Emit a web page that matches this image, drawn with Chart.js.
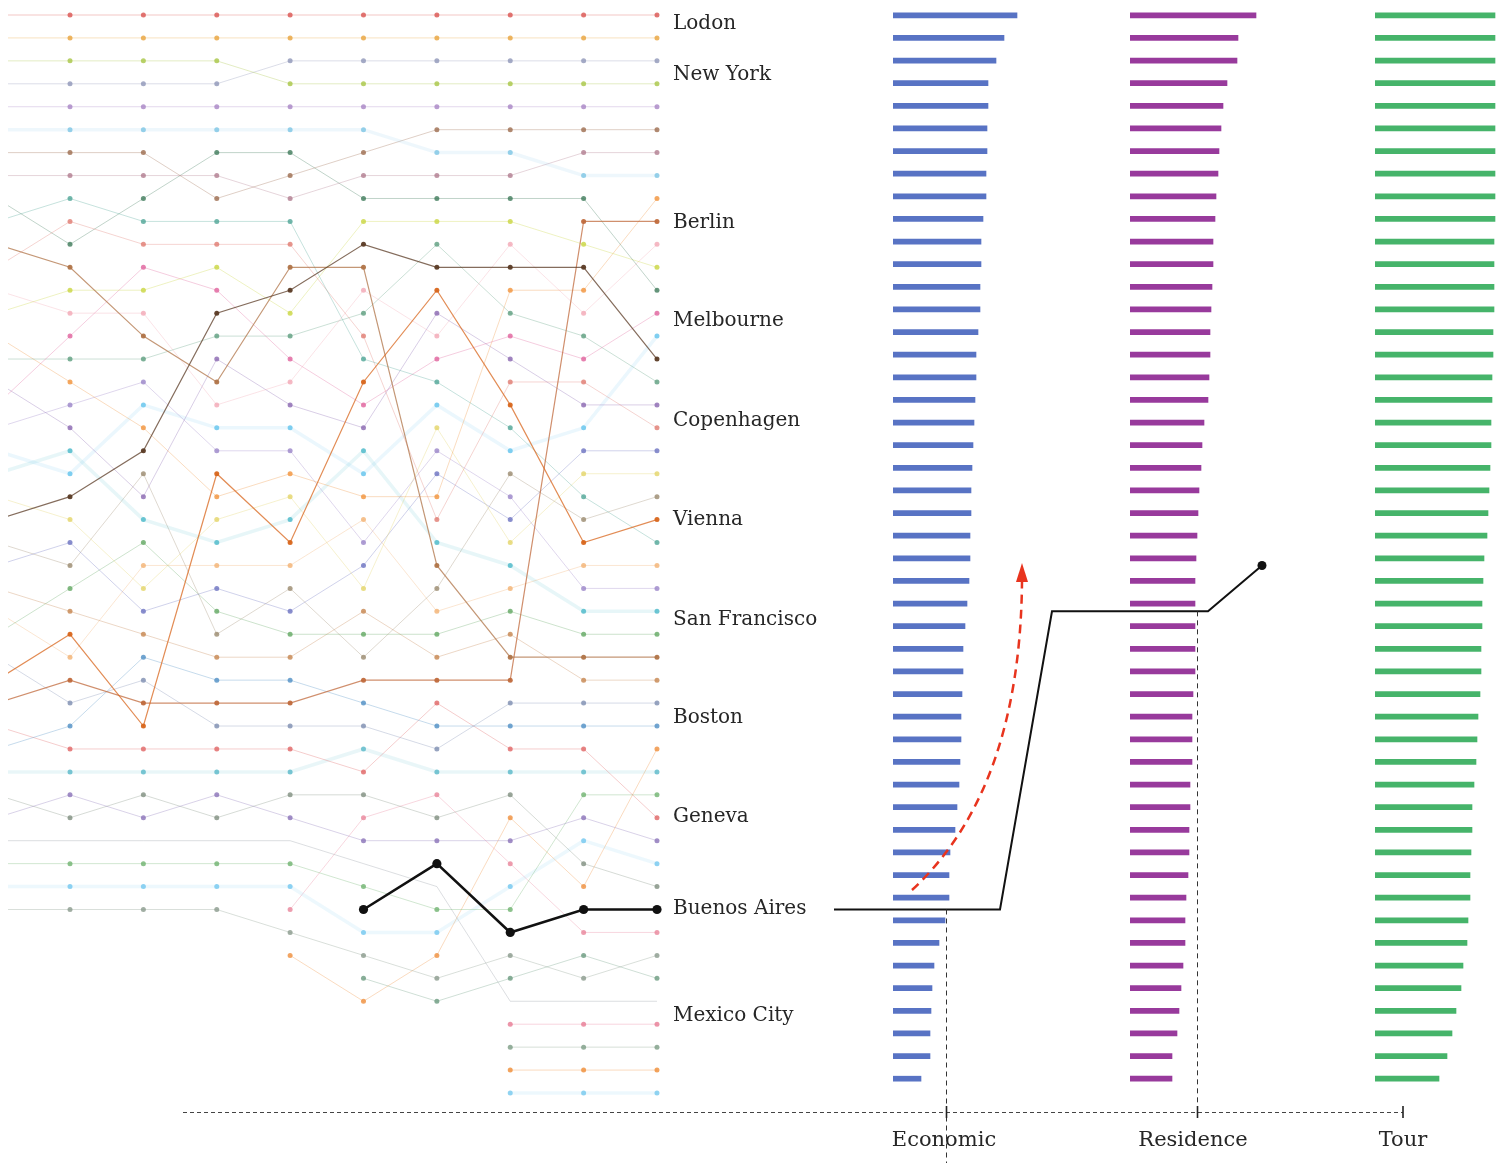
<!DOCTYPE html>
<html>
<head>
<meta charset="utf-8">
<title>City rankings</title>
<script src="https://cdn.jsdelivr.net/npm/chart.js@4.4.0/dist/chart.umd.min.js"></script>
<style>
  html, body { margin: 0; padding: 0; background: #fff; }
  #stage { position: relative; width: 1511px; height: 1163px; overflow: hidden; background: #fff; }
  #stage canvas { position: absolute; }
</style>
</head>
<body>
<div id="stage">
  <canvas id="bar-economic" width="130" height="1086" style="left:893px;top:3.7px"></canvas>
  <canvas id="bar-residence" width="130" height="1086" style="left:1130px;top:3.7px"></canvas>
  <canvas id="bar-tour" width="130" height="1086" style="left:1375px;top:3.7px"></canvas>
  <canvas id="bump" width="1511" height="1163" style="left:0;top:0"></canvas>
</div>
<script>
// ============================================================
// DATA
// ============================================================

// ranking order per period (city ids, 1st place first). period 0 sits just off the left edge
const p0 = [0,1,2,3,4,5,6,7,10,8,14,9,16,15,19,18,21,17,20,23,22,24,12,26,25,28,29,27,31,13,30,33,32,34,36,35,39,37,38,11];
const p1 = [0,1,2,3,4,5,6,7,8,9,10,14,15,16,17,18,19,20,21,22,23,12,24,25,26,27,28,13,29,30,31,32,33,34,35,36,39,37,38,11];
const p2 = [0,1,2,3,4,5,6,7,10,8,9,17,15,16,14,18,20,23,19,12,26,21,22,27,29,24,25,28,32,31,30,13,33,34,36,35,39,37,38,11];
const p3 = [0,1,2,3,4,5,10,7,6,8,9,15,17,12,18,21,14,16,23,20,13,19,24,22,29,25,27,26,28,32,30,31,33,34,35,36,39,37,38,11];
const p4 = [0,1,3,2,4,5,10,6,7,8,9,14,12,15,18,17,16,21,23,20,19,24,22,13,29,26,25,27,28,32,30,31,33,34,36,35,39,37,38,40,11,41];
const p5 = [0,1,3,2,4,5,6,7,10,15,12,14,16,18,9,8,13,17,21,22,23,19,29,20,25,24,28,27,26,30,32,31,34,33,36,40,35,39,37,42,38,11,43,41];
const p6 = [0,1,3,2,4,6,5,7,10,15,18,12,13,21,16,17,8,23,24,20,25,19,9,22,14,26,29,27,28,30,33,32,31,34,40,36,35,42,39,37,38,41,11,43];
const p7 = [0,1,3,2,4,6,5,7,10,15,16,12,19,18,17,21,9,13,8,23,26,20,25,24,22,29,27,28,14,30,31,32,33,34,36,41,35,40,38,37,42,11,43,39,44,45,46,47];
const p8 = [0,1,3,2,4,6,7,5,10,30,15,12,19,16,18,17,9,21,23,25,24,8,26,13,29,20,22,27,14,28,31,32,33,34,37,35,38,36,41,42,40,43,11,39,44,45,46,47];
const p9 = [0,1,3,2,4,6,7,5,19,30,16,15,10,17,23,12,18,21,9,25,24,26,13,8,29,20,22,27,14,28,31,32,41,34,37,33,35,38,36,42,40,11,43,39,44,45,46,47];
const periods = [p0, p1, p2, p3, p4, p5, p6, p7, p8, p9];

// one colour per city id
const cityColors = [
  '#d9534f', '#e9a23b', '#a8c545', '#8f96b8', '#a884c4', '#7cc4e4', '#9c6b4e', '#b07c8e',
  '#4fa596', '#e07a70', '#3e7a5a', '#8a9a8c', '#5b3b25', '#d8661c', '#b07448', '#c9d640',
  '#f2a7b5', '#e0629c', '#5c9e7e', '#f1923a', '#9a84c8', '#8a66b0', '#48b8c8', '#62c3ec',
  '#e3d468', '#6c72c0', '#9a8a6e', '#62a862', '#c5844e', '#f3b272', '#c06a3c', '#7d8db0',
  '#4f8fc4', '#e06464', '#58b8c8', '#8a72b8', '#7f8f80', '#6fb36f', '#72c7ef', '#9aa0a8',
  '#e8849a', '#ef8e3c', '#111111', '#6a9a7e', '#e77a94', '#7c9c84', '#ef8c34', '#74c8ee'
];
const strongCities = [12, 13, 14, 30];
const softCities = [5, 22, 23, 34, 38, 47];
const ghostCity = 39;
const buenosAires = 42;

// right-hand city names and the rank level each one sits at
const cityLabels = ['Lodon', 'New York', 'Berlin', 'Melbourne', 'Copenhagen', 'Vienna',
  'San Francisco', 'Boston', 'Geneva', 'Buenos Aires', 'Mexico City'];
const cityLabelRanks = [0.4, 2.6, 9.05, 13.35, 17.7, 22.0, 26.35, 30.65, 34.95, 38.95, 43.65];

// bar scores, best to worst
const metricNames = ['Economic', 'Residence', 'Tour'];
const economicScores = [124,111,103,95,95,94,94,93,93,90,88,88,87,87,85,83,83,82,81,80,79,78,78,77,77,76,74,72,70,70,69,68,68,67,66,64,62,57,56,56,52,46,41,39,38,37,37,28];
const residenceScores = [126,108,107,97,93,91,89,88,86,85,83,83,82,81,80,80,79,78,74,72,71,69,68,67,66,65,65,65,65,65,63,62,62,62,60,60,59,59,58,56,55,55,53,51,49,47,42,42];
const tourScores = [120,120,120,120,120,120,120,120,120,120,119,119,119,119,118,118,117,117,116,116,115,114,113,112,109,108,107,107,106,106,105,103,102,101,99,97,97,96,95,95,93,92,88,86,81,77,72,64];
const barRanks = economicScores.map((v, i) => i + 1);

// Buenos Aires rank in Economic / Residence / Tour
const baMetricRanks = [39, 26, 24];

// ============================================================
// HELPERS
// ============================================================

function rgba(hex, a) {
  const n = parseInt(hex.slice(1), 16);
  return `rgba(${(n >> 16) & 255}, ${(n >> 8) & 255}, ${n & 255}, ${a})`;
}

const SERIF = '"DejaVu Serif", "Liberation Serif", serif';

// ============================================================
// BUMP CHART
// ============================================================

const bumpDatasets = cityColors.map((col, id) => {
  const pts = [];
  periods.forEach((order, x) => {
    const r = order.indexOf(id);
    if (r >= 0) pts.push({ x: x, y: r });
  });

  const ds = {
    data: pts,
    borderColor: rgba(col, 0.32),
    borderWidth: 1,
    pointRadius: 2.5,
    pointBorderWidth: 0,
    pointBackgroundColor: rgba(col, 0.8),
    tension: 0,
    order: 0
  };
  if (softCities.includes(id)) {
    ds.borderColor = rgba(col, 0.13);
    ds.borderWidth = 3.5;
  }
  if (strongCities.includes(id)) {
    ds.borderColor = rgba(col, 0.75);
    ds.borderWidth = 1.2;
    ds.pointBackgroundColor = rgba(col, 0.95);
    ds.order = -1;
  }
  if (id === ghostCity) {
    ds.borderColor = rgba(col, 0.35);
    ds.pointRadius = 0;
  }
  if (id === buenosAires) {
    ds.borderColor = '#111';
    ds.borderWidth = 2.6;
    ds.pointRadius = 4.6;
    ds.pointBackgroundColor = '#111';
    ds.order = -2;
  }
  return ds;
});

// labels, Buenos Aires connector, red arrow and the dashed metric axis
const overlayPlugin = {
  id: 'overlay',
  afterDatasetsDraw(chart) {
    const { ctx } = chart;
    const y = chart.scales.y;
    ctx.save();

    ctx.font = '20px ' + SERIF;
    ctx.fillStyle = '#262626';
    ctx.textBaseline = 'middle';
    ctx.textAlign = 'left';
    cityLabels.forEach((t, i) => ctx.fillText(t, 673, y.getPixelForValue(cityLabelRanks[i])));

    const yE = y.getPixelForValue(baMetricRanks[0]);
    const yR = y.getPixelForValue(baMetricRanks[1]);
    const yT = y.getPixelForValue(baMetricRanks[2]);
    const axisY = 1112;

    // connector
    ctx.strokeStyle = '#111';
    ctx.lineWidth = 2;
    ctx.lineJoin = 'miter';
    ctx.beginPath();
    ctx.moveTo(834, yE);
    ctx.lineTo(1000, yE);
    ctx.lineTo(1052, yR);
    ctx.lineTo(1208, yR);
    ctx.lineTo(1262, yT);
    ctx.stroke();
    ctx.fillStyle = '#111';
    ctx.beginPath();
    ctx.arc(1262, yT, 4.5, 0, Math.PI * 2);
    ctx.fill();

    // dashed guides
    ctx.lineWidth = 1;
    ctx.strokeStyle = '#333';
    ctx.setLineDash([5, 4]);
    ctx.beginPath();
    ctx.moveTo(946.5, yE);
    ctx.lineTo(946.5, 1163);
    ctx.moveTo(1197.5, yR);
    ctx.lineTo(1197.5, axisY);
    ctx.stroke();

    ctx.strokeStyle = '#444';
    ctx.setLineDash([4, 3]);
    ctx.beginPath();
    ctx.moveTo(183, axisY + 0.5);
    ctx.lineTo(1403, axisY + 0.5);
    ctx.stroke();

    ctx.setLineDash([]);
    ctx.lineWidth = 1.6;
    ctx.strokeStyle = '#222';
    const tickX = [946.5, 1197.5, 1403];
    ctx.beginPath();
    tickX.forEach(tx => { ctx.moveTo(tx, axisY - 6); ctx.lineTo(tx, axisY + 6); });
    ctx.stroke();

    ctx.font = '21px ' + SERIF;
    ctx.fillStyle = '#262626';
    ctx.textAlign = 'center';
    const labelX = [944, 1193, 1403];
    metricNames.forEach((m, i) => ctx.fillText(m, labelX[i], 1141));

    // red arrow
    ctx.strokeStyle = '#e8341e';
    ctx.lineWidth = 2.5;
    ctx.setLineDash([9, 6]);
    ctx.beginPath();
    ctx.moveTo(912, 890);
    ctx.quadraticCurveTo(1020, 790, 1022, 582);
    ctx.stroke();
    ctx.setLineDash([]);
    ctx.fillStyle = '#e8341e';
    ctx.beginPath();
    ctx.moveTo(1022, 563);
    ctx.lineTo(1016, 582);
    ctx.lineTo(1028, 582);
    ctx.closePath();
    ctx.fill();

    ctx.restore();
  }
};

new Chart(document.getElementById('bump'), {
  type: 'line',
  data: { datasets: bumpDatasets },
  options: {
    responsive: false,
    animation: false,
    events: [],
    layout: { autoPadding: false, padding: { left: 8, right: 0, top: 0, bottom: 0 } },
    scales: {
      x: { type: 'linear', min: 0.155, max: 20.639, display: false },
      y: { type: 'linear', min: -0.654, max: 50.052, reverse: true, display: false }
    },
    plugins: { legend: { display: false }, tooltip: { enabled: false } }
  },
  plugins: [overlayPlugin]
});

// ============================================================
// BAR COLUMNS
// ============================================================

function makeBarChart(id, values, color) {
  new Chart(document.getElementById(id), {
    type: 'bar',
    data: {
      labels: barRanks,
      datasets: [{ data: values, backgroundColor: color, barThickness: 5, borderWidth: 0 }]
    },
    options: {
      indexAxis: 'y',
      responsive: false,
      animation: false,
      events: [],
      layout: { autoPadding: false, padding: 0 },
      scales: {
        x: { min: 0, max: 130, display: false },
        y: { display: false }
      },
      plugins: { legend: { display: false }, tooltip: { enabled: false } }
    }
  });
}

makeBarChart('bar-economic', economicScores, '#5873c4');
makeBarChart('bar-residence', residenceScores, '#983a9c');
makeBarChart('bar-tour', tourScores, '#46b46a');
</script>
</body>
</html>
